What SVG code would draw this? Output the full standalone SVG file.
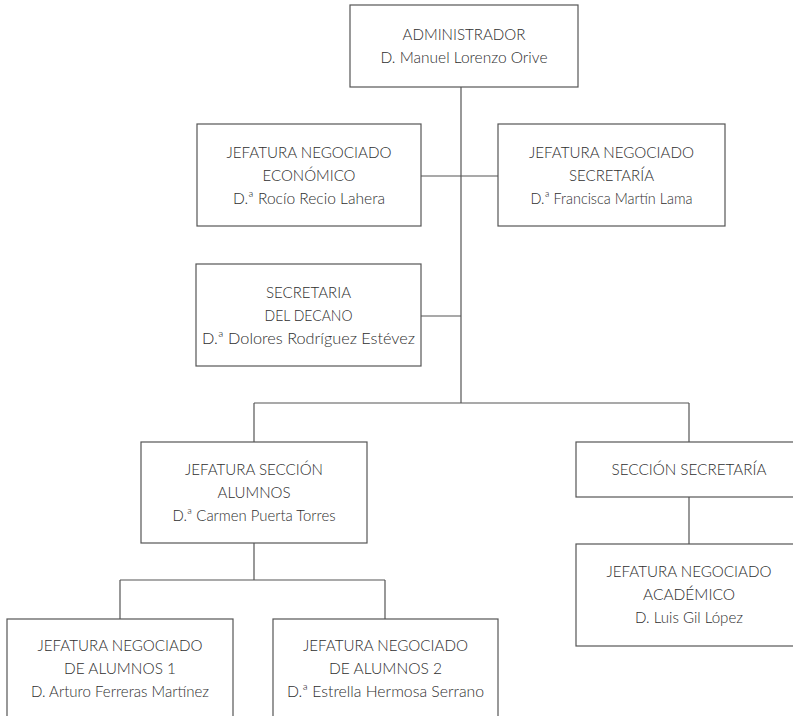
<svg xmlns="http://www.w3.org/2000/svg" width="793" height="716" viewBox="0 0 793 716">
<style>
.box{fill:#fff;stroke:#555;stroke-width:1.2}
.ln{stroke:#555;stroke-width:1.2;fill:none}
text{font-family:Lato,"Liberation Sans",sans-serif;font-weight:300;font-size:16.5px;fill:#2e2e2e;text-anchor:middle}
</style>
<rect width="793" height="716" fill="#fff"/>
<g id="connectors">
<path class="ln" d="M461 87V403M421 176H498M421 316H461M254 403H689M254 403V442M689 403V442M689 497V544M254 543V580M120 580H385M120 580V619M385 580V619"/>
</g>
<g id="administrador">
<rect class="box" x="350" y="5" width="228" height="82"/>
<text x="464" y="40" textLength="123" lengthAdjust="spacingAndGlyphs">ADMINISTRADOR</text>
<text x="464" y="63" textLength="167" lengthAdjust="spacingAndGlyphs">D. Manuel Lorenzo Orive</text>
</g>
<g id="economico">
<rect class="box" x="197" y="124" width="224" height="102"/>
<text x="309" y="158" textLength="165" lengthAdjust="spacingAndGlyphs">JEFATURA NEGOCIADO</text>
<text x="309" y="181" textLength="93" lengthAdjust="spacingAndGlyphs">ECONÓMICO</text>
<text x="309" y="204" textLength="152" lengthAdjust="spacingAndGlyphs">D.ª Rocío Recio Lahera</text>
</g>
<g id="secretaria-negociado">
<rect class="box" x="498" y="124" width="227" height="102"/>
<text x="611.5" y="158" textLength="165" lengthAdjust="spacingAndGlyphs">JEFATURA NEGOCIADO</text>
<text x="611.5" y="181" textLength="85" lengthAdjust="spacingAndGlyphs">SECRETARÍA</text>
<text x="611.5" y="204" textLength="162" lengthAdjust="spacingAndGlyphs">D.ª Francisca Martín Lama</text>
</g>
<g id="secretaria-decano">
<rect class="box" x="196" y="264" width="225" height="102"/>
<text x="308.5" y="298" textLength="85" lengthAdjust="spacingAndGlyphs">SECRETARIA</text>
<text x="308.5" y="321" textLength="88" lengthAdjust="spacingAndGlyphs">DEL DECANO</text>
<text x="308.5" y="344" textLength="213" lengthAdjust="spacingAndGlyphs">D.ª Dolores Rodríguez Estévez</text>
</g>
<g id="seccion-alumnos">
<rect class="box" x="141" y="442" width="226" height="101"/>
<text x="254" y="475" textLength="138" lengthAdjust="spacingAndGlyphs">JEFATURA SECCIÓN</text>
<text x="254" y="498" textLength="73" lengthAdjust="spacingAndGlyphs">ALUMNOS</text>
<text x="254" y="521" textLength="163" lengthAdjust="spacingAndGlyphs">D.ª Carmen Puerta Torres</text>
</g>
<g id="seccion-secretaria">
<rect class="box" x="576" y="442" width="226" height="55"/>
<text x="689" y="475" textLength="155" lengthAdjust="spacingAndGlyphs">SECCIÓN SECRETARÍA</text>
</g>
<g id="academico">
<rect class="box" x="576" y="544" width="226" height="102"/>
<text x="689" y="577" textLength="165" lengthAdjust="spacingAndGlyphs">JEFATURA NEGOCIADO</text>
<text x="689" y="600" textLength="92" lengthAdjust="spacingAndGlyphs">ACADÉMICO</text>
<text x="689" y="623" textLength="108" lengthAdjust="spacingAndGlyphs">D. Luis Gil López</text>
</g>
<g id="alumnos-1">
<rect class="box" x="7" y="619" width="226" height="104"/>
<text x="120" y="651" textLength="165" lengthAdjust="spacingAndGlyphs">JEFATURA NEGOCIADO</text>
<text x="120" y="674" textLength="112" lengthAdjust="spacingAndGlyphs">DE ALUMNOS 1</text>
<text x="120" y="697" textLength="178" lengthAdjust="spacingAndGlyphs">D. Arturo Ferreras Martínez</text>
</g>
<g id="alumnos-2">
<rect class="box" x="273" y="619" width="225" height="104"/>
<text x="385.5" y="651" textLength="165" lengthAdjust="spacingAndGlyphs">JEFATURA NEGOCIADO</text>
<text x="385.5" y="674" textLength="113" lengthAdjust="spacingAndGlyphs">DE ALUMNOS 2</text>
<text x="385.5" y="697" textLength="197" lengthAdjust="spacingAndGlyphs">D.ª Estrella Hermosa Serrano</text>
</g>
</svg>
